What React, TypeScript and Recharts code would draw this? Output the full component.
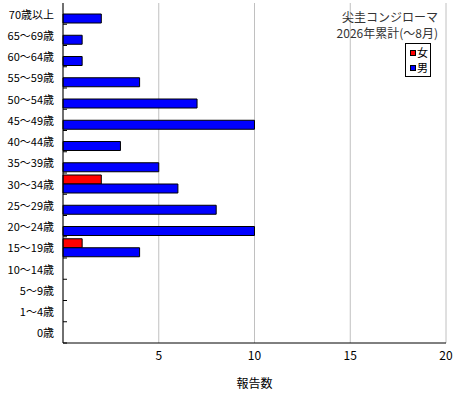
import React from 'react';
import { BarChart, Bar, XAxis, YAxis, CartesianGrid, Legend } from 'recharts';

const ages = ['70歳以上', '65～69歳', '60～64歳', '55～59歳', '50～54歳', '45～49歳', '40～44歳', '35～39歳', '30～34歳', '25～29歳', '20～24歳', '15～19歳', '10～14歳', '5～9歳', '1～4歳', '0歳'];
const female = [0, 0, 0, 0, 0, 0, 0, 0, 2, 0, 0, 1, 0, 0, 0, 0];
const male = [2, 1, 1, 4, 7, 10, 3, 5, 6, 8, 10, 4, 0, 0, 0, 0];
const xTicks = [5, 10, 15, 20];
const titleLines = ['尖圭コンジローマ', '2026年累計(～8月)'];

const data = ages.map((age, i) => ({ age, female: female[i], male: male[i] }));

const W = 460;
const H = 400;
const MARGIN = { top: 3, right: 14, left: 0, bottom: 0 };
const Y_W = 63;
const X_H = 57;
const PLOT_H = H - MARGIN.top - X_H;
const BAND = PLOT_H / ages.length;
const FONT = '"Noto Sans CJK JP", "Noto Sans", sans-serif';

const YTick = (props: any) => {
  const { x, y, payload } = props;
  const axisX = MARGIN.left + Y_W;
  return (
    <g>
      <text x={x - 1} y={y} dy={5} textAnchor="end" fontSize={11} fill="#000" fontFamily={FONT}>
        {payload.value}
      </text>
      <line x1={axisX} x2={axisX + 4} y1={y + BAND / 2} y2={y + BAND / 2} stroke="#000" strokeWidth={1} />
    </g>
  );
};

const LegendContent = (props: any) => {
  const { payload } = props;
  return (
    <div style={{ fontFamily: FONT, textAlign: 'right' }}>
      {titleLines.map((t) => (
        <div key={t} style={{ fontSize: 12, lineHeight: '16px', height: 16, color: '#333', whiteSpace: 'nowrap' }}>
          {t}
        </div>
      ))}
      <div
        style={{
          display: 'inline-block',
          marginTop: 2,
          marginRight: 7,
          width: 26,
          boxSizing: 'border-box',
          border: '1px solid #000',
          background: '#fff',
          padding: '1px 0 1px 4px',
          textAlign: 'left',
        }}
      >
        {(payload || []).map((p: any) => (
          <div key={p.value} style={{ display: 'flex', alignItems: 'center', height: 15, fontSize: 11, lineHeight: '15px', color: '#000' }}>
            <span
              style={{
                display: 'inline-block',
                width: 4,
                height: 4,
                background: p.color,
                border: '1px solid #000',
                marginRight: 1,
              }}
            />
            <span>{p.value}</span>
          </div>
        ))}
      </div>
    </div>
  );
};

export default function App() {
  return (
    <div style={{ position: 'absolute', left: 0, top: 0, width: W, height: H, background: '#fff', fontFamily: FONT }}>
      <BarChart width={W} height={H} data={data} layout="vertical" margin={MARGIN} barGap={0} barSize={9}>
        <CartesianGrid horizontal={false} stroke="#c0c0c0" />
        <XAxis
          type="number"
          domain={[0, 20]}
          ticks={xTicks}
          tickLine={false}
          axisLine={{ stroke: '#000' }}
          height={X_H}
          tick={{ fontSize: 12, fill: '#000', fontFamily: FONT }}
          label={{ value: '報告数', position: 'insideBottom', offset: 12, fontSize: 12, fill: '#000', fontFamily: FONT }}
        />
        <XAxis
          xAxisId="top"
          orientation="top"
          type="number"
          domain={[0, 20]}
          tick={false}
          tickLine={false}
          height={0}
          axisLine={{ stroke: '#000' }}
        />
        <YAxis
          type="category"
          dataKey="age"
          width={Y_W}
          tickLine={false}
          axisLine={{ stroke: '#000' }}
          tick={<YTick />}
          interval={0}
        />
        <YAxis
          yAxisId="right"
          orientation="right"
          type="category"
          dataKey="age"
          width={0}
          tick={false}
          tickLine={false}
          axisLine={{ stroke: '#000' }}
        />
        <Legend
          layout="horizontal"
          verticalAlign="middle"
          align="center"
          content={<LegendContent />}
          wrapperStyle={{ position: 'absolute', left: 300, top: 9, width: 138, bottom: 'auto' }}
        />
        <Bar dataKey="female" name="女" fill="#ff0000" stroke="#000" strokeWidth={1} isAnimationActive={false} />
        <Bar dataKey="male" name="男" fill="#0000ff" stroke="#000" strokeWidth={1} isAnimationActive={false} />
      </BarChart>
    </div>
  );
}
